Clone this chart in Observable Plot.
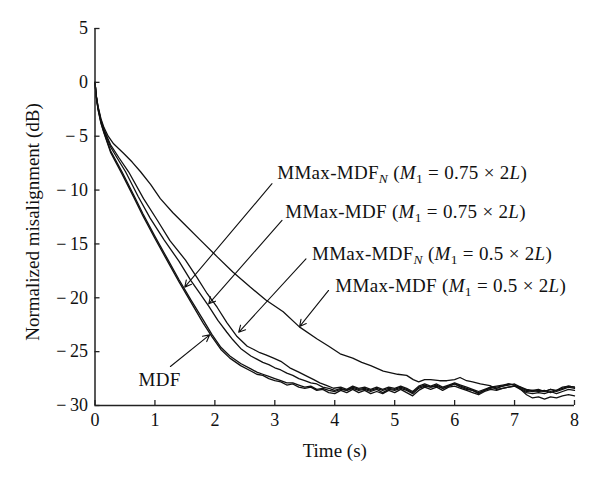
<!DOCTYPE html>
<html>
<head>
<meta charset="utf-8">
<script src="https://cdn.jsdelivr.net/npm/d3@7"></script>
<script src="https://cdn.jsdelivr.net/npm/@observablehq/plot@0.6"></script>
<style>
  html, body { margin: 0; padding: 0; background: #fff; }
  #chart { width: 600px; height: 481px; }
</style>
</head>
<body>
<div id="chart"></div>
<script>
// ---- Data ----
const xTicks = [0, 1, 2, 3, 4, 5, 6, 7, 8];
const yTicks = [5, 0, -5, -10, -15, -20, -25, -30];

// MDF
const mdf = [[0,0],[0.02,-1.3],[0.05,-2.5],[0.1,-3.8],[0.15,-4.7],[0.26,-6.5],[0.45,-8.5],[0.65,-10.7],[0.8,-12.4],[1.0,-14.5],[1.2,-16.5],[1.4,-18.5],[1.6,-20.4],[1.8,-22.3],[1.95,-23.6],[2.1,-24.8],[2.25,-25.6],[2.43,-26.3],[2.6,-26.8],[2.7,-27.1],[2.8,-27.2],[2.9,-27.5],[3.0,-27.7],[3.1,-27.8],[3.2,-28.1],[3.3,-28.0],[3.4,-28.3],[3.5,-28.4],[3.6,-28.3],[3.7,-28.6],[3.8,-28.5],[3.9,-28.8],[4.0,-28.9],[4.1,-28.6],[4.2,-28.8],[4.3,-28.5],[4.4,-28.8],[4.5,-28.6],[4.6,-28.9],[4.7,-28.7],[4.8,-28.9],[4.9,-28.6],[5.0,-28.8],[5.1,-28.5],[5.2,-28.8],[5.3,-29.1],[5.4,-28.6],[5.5,-28.3],[5.6,-28.5],[5.7,-28.3],[5.8,-28.6],[5.9,-28.3],[6.0,-28.2],[6.1,-28.4],[6.2,-28.6],[6.3,-28.8],[6.4,-29.0],[6.5,-28.7],[6.6,-28.5],[6.7,-28.6],[6.8,-28.4],[6.9,-28.3],[7.0,-28.2],[7.1,-28.5],[7.2,-28.8],[7.3,-28.9],[7.4,-28.8],[7.5,-28.9],[7.6,-28.7],[7.7,-28.9],[7.8,-28.7],[7.9,-28.5],[8.0,-28.6]];

// MMax-MDF_N (M1 = 0.75 x 2L)
const mmaxN075 = [[0,0],[0.02,-1.3],[0.05,-2.45],[0.1,-3.75],[0.15,-4.65],[0.26,-6.35],[0.45,-8.3],[0.65,-10.5],[0.8,-12.2],[1.0,-14.3],[1.2,-16.3],[1.4,-18.3],[1.6,-20.2],[1.8,-22.0],[1.95,-23.4],[2.1,-24.6],[2.25,-25.4],[2.43,-26.1],[2.6,-26.6],[2.7,-26.9],[2.8,-27.1],[2.9,-27.3],[3.0,-27.5],[3.1,-27.7],[3.2,-27.9],[3.3,-27.9],[3.4,-28.1],[3.5,-28.3],[3.6,-28.2],[3.7,-28.5],[3.8,-28.4],[3.9,-28.6],[4.0,-28.7],[4.1,-28.5],[4.2,-28.6],[4.3,-28.4],[4.4,-28.6],[4.5,-28.5],[4.6,-28.7],[4.7,-28.5],[4.8,-28.8],[4.9,-28.5],[5.0,-28.6],[5.1,-28.4],[5.2,-28.6],[5.3,-28.9],[5.4,-28.4],[5.5,-28.2],[5.6,-28.3],[5.7,-28.2],[5.8,-28.4],[5.9,-28.2],[6.0,-28.0],[6.1,-28.2],[6.2,-28.4],[6.3,-28.6],[6.4,-28.8],[6.5,-28.6],[6.6,-28.3],[6.7,-28.4],[6.8,-28.2],[6.9,-28.1],[7.0,-28.0],[7.1,-28.3],[7.2,-28.6],[7.3,-28.7],[7.4,-28.6],[7.5,-28.7],[7.6,-28.5],[7.7,-28.7],[7.8,-28.5],[7.9,-28.3],[8.0,-28.4]];

// MMax-MDF (M1 = 0.75 x 2L)
const mmax075 = [[0,0],[0.02,-1.25],[0.05,-2.35],[0.1,-3.6],[0.15,-4.5],[0.26,-6.0],[0.4,-7.3],[0.51,-8.3],[0.72,-10.6],[0.92,-12.6],[1.15,-14.6],[1.4,-16.6],[1.6,-18.4],[1.75,-19.6],[1.9,-20.8],[2.05,-22.1],[2.2,-23.2],[2.3,-23.9],[2.43,-24.7],[2.6,-25.4],[2.7,-25.7],[2.8,-26.0],[2.9,-26.2],[3.0,-26.5],[3.1,-26.7],[3.2,-27.0],[3.3,-27.2],[3.4,-27.5],[3.5,-27.7],[3.6,-27.9],[3.7,-28.0],[3.8,-28.3],[3.9,-28.4],[4.0,-28.6],[4.1,-28.4],[4.2,-28.6],[4.3,-28.3],[4.4,-28.5],[4.5,-28.4],[4.6,-28.6],[4.7,-28.4],[4.8,-28.6],[4.9,-28.4],[5.0,-28.5],[5.1,-28.3],[5.2,-28.5],[5.3,-28.8],[5.4,-28.3],[5.5,-28.1],[5.6,-28.3],[5.7,-28.1],[5.8,-28.4],[5.9,-28.2],[6.0,-28.0],[6.1,-28.3],[6.2,-28.5],[6.3,-28.6],[6.4,-28.9],[6.5,-28.6],[6.6,-28.4],[6.7,-28.3],[6.8,-28.2],[6.9,-28.0],[7.0,-28.1],[7.1,-28.4],[7.2,-28.7],[7.3,-28.6],[7.4,-28.7],[7.5,-28.6],[7.6,-28.8],[7.7,-28.6],[7.8,-28.4],[7.9,-28.2],[8.0,-28.3]];

// MMax-MDF_N (M1 = 0.5 x 2L)
const mmaxN05 = [[0,0],[0.02,-1.2],[0.05,-2.3],[0.1,-3.5],[0.15,-4.4],[0.26,-5.8],[0.4,-7.0],[0.56,-8.3],[0.81,-10.8],[1.04,-12.8],[1.25,-14.7],[1.51,-16.5],[1.7,-18.1],[1.87,-19.6],[2.04,-20.9],[2.2,-22.3],[2.37,-23.6],[2.54,-24.5],[2.65,-24.8],[2.75,-25.1],[2.85,-25.3],[2.98,-25.6],[3.1,-25.9],[3.25,-26.5],[3.4,-26.9],[3.54,-27.3],[3.65,-27.6],[3.75,-27.9],[3.85,-28.1],[3.98,-28.4],[4.1,-28.3],[4.2,-28.5],[4.3,-28.2],[4.4,-28.4],[4.5,-28.3],[4.6,-28.5],[4.7,-28.3],[4.8,-28.5],[4.9,-28.3],[5.0,-28.4],[5.1,-28.2],[5.2,-28.4],[5.3,-28.7],[5.4,-28.2],[5.5,-28.0],[5.6,-28.2],[5.7,-28.0],[5.8,-28.3],[5.9,-28.1],[6.0,-27.9],[6.1,-28.1],[6.2,-28.3],[6.3,-28.5],[6.4,-28.7],[6.5,-28.5],[6.6,-28.3],[6.7,-28.2],[6.8,-28.1],[6.9,-28.0],[7.0,-28.1],[7.1,-28.5],[7.2,-29.0],[7.3,-29.3],[7.4,-29.2],[7.5,-29.4],[7.6,-29.2],[7.7,-29.3],[7.8,-29.1],[7.9,-29.0],[8.0,-29.1]];

// MMax-MDF (M1 = 0.5 x 2L)
const mmax05 = [[0,0],[0.02,-1.2],[0.05,-2.2],[0.1,-3.4],[0.15,-4.2],[0.22,-5.0],[0.31,-5.7],[0.48,-6.6],[0.62,-7.4],[0.76,-8.3],[0.93,-9.5],[1.09,-10.8],[1.3,-12.1],[1.48,-13.1],[1.75,-14.6],[2.04,-16.2],[2.3,-17.6],[2.59,-19.0],[2.85,-20.2],[3.14,-21.3],[3.41,-22.7],[3.7,-23.8],[3.9,-24.5],[4.09,-25.2],[4.3,-25.6],[4.45,-26.0],[4.6,-26.3],[4.81,-26.8],[5.05,-27.1],[5.2,-27.2],[5.31,-27.6],[5.4,-27.8],[5.5,-27.6],[5.6,-27.6],[5.75,-27.7],[5.87,-27.7],[6.0,-27.6],[6.09,-27.4],[6.2,-27.7],[6.3,-27.8],[6.43,-28.0],[6.59,-28.15],[6.7,-28.5],[6.8,-28.4],[6.9,-28.3],[7.0,-28.2],[7.1,-28.3],[7.2,-28.5],[7.3,-28.6],[7.4,-28.5],[7.5,-28.7],[7.6,-28.5],[7.7,-28.6],[7.8,-28.3],[7.9,-28.2],[8.0,-28.3]];

// Annotation labels (rich text parts) and their anchor points (data units)
const labelX = [3.04, 3.175, 3.62, 4.01, 0.725];
const labelY = [-8.45, -12.07, -15.88, -18.86, -27.67];
const labelParts = [
  [{t:"MMax-MDF"},{t:"N",sub:true,it:true},{t:" ("},{t:"M",it:true},{t:"1",sub:true},{t:" = 0.75 × 2"},{t:"L",it:true},{t:")"}],
  [{t:"MMax-MDF ("},{t:"M",it:true},{t:"1",sub:true},{t:" = 0.75 × 2"},{t:"L",it:true},{t:")"}],
  [{t:"MMax-MDF"},{t:"N",sub:true,it:true},{t:" ("},{t:"M",it:true},{t:"1",sub:true},{t:" = 0.5 × 2"},{t:"L",it:true},{t:")"}],
  [{t:"MMax-MDF ("},{t:"M",it:true},{t:"1",sub:true},{t:" = 0.5 × 2"},{t:"L",it:true},{t:")"}],
  [{t:"MDF"}]
];
// Arrows: start (near label) -> tip (on curve), data units
const arrowX1 = [2.953, 3.12, 3.52, 3.897, 1.258];
const arrowY1 = [-9.41, -12.82, -16.38, -19.32, -26.38];
const arrowX2 = [1.497, 1.897, 2.397, 3.413, 1.913];
const arrowY2 = [-19.01, -20.56, -23.20, -22.67, -23.44];

// ---- Build tables ----
const seriesList = [mdf, mmaxN075, mmax075, mmaxN05, mmax05];
const lines = seriesList.flatMap((s, i) => s.map(([x, y]) => ({x, y, s: i})));
const labels = labelX.map((x, i) => ({x, y: labelY[i], text: labelParts[i].map(p => p.t).join(""), parts: labelParts[i]}));
const arrows = arrowX1.map((x1, i) => ({x1, y1: arrowY1[i], x2: arrowX2[i], y2: arrowY2[i]}));

const font = "'Liberation Serif', 'Times New Roman', serif";

const chart = Plot.plot({
  width: 600,
  height: 481,
  marginLeft: 94.5,
  marginRight: 26,
  marginTop: 28,
  marginBottom: 76,
  style: {fontFamily: font, fontSize: "18px", color: "#111", background: "#fff", overflow: "visible"},
  x: {domain: [0, 8]},
  y: {domain: [-30, 5]},
  marks: [
    Plot.line(lines, {x: "x", y: "y", z: "s", stroke: "#111", strokeWidth: 1.3, strokeLinejoin: "round"}),
    Plot.arrow(arrows, {x1: "x1", y1: "y1", x2: "x2", y2: "y2", stroke: "#111", strokeWidth: 1.1, headLength: 10, headAngle: 55}),
    Plot.text(labels, {x: "x", y: "y", text: "text", textAnchor: "start", lineAnchor: "middle", fontSize: 19, fill: "#111"}),
    Plot.ruleX([0], {stroke: "#222", strokeWidth: 1.5}),
    Plot.ruleY([-30], {stroke: "#222", strokeWidth: 1.5}),
    Plot.axisX({ticks: xTicks, tickSize: 0, tickPadding: 8, label: null, fontSize: 18, tickFormat: d => String(d)}),
    Plot.axisX({ticks: xTicks, tickSize: 5, dy: -5, text: null, label: null, stroke: "#222", strokeWidth: 1.3}),
    Plot.axisY({ticks: yTicks, tickSize: 0, tickPadding: 7, label: null, fontSize: 18, tickFormat: d => d < 0 ? "\u2212\u2009" + Math.abs(d) : String(d)}),
    Plot.axisY({ticks: yTicks, tickSize: 5, dx: 5, text: null, label: null, stroke: "#222", strokeWidth: 1.3}),
    Plot.text(["Time (s)"], {frameAnchor: "bottom", lineAnchor: "middle", dy: 45, fontSize: 19, fill: "#111"}),
    Plot.text(["Normalized misalignment (dB)"], {frameAnchor: "left", textAnchor: "middle", lineAnchor: "middle", dx: -62, dy: 5, rotate: -90, fontSize: 19, fill: "#111"})
  ]
});

document.getElementById("chart").appendChild(chart);

// Turn annotation labels into rich text (italic symbols, subscripts)
const svgns = "http://www.w3.org/2000/svg";
chart.querySelectorAll("text").forEach(el => {
  const lab = labels.find(l => l.text === el.textContent);
  if (!lab) return;
  while (el.firstChild) el.removeChild(el.firstChild);
  el.setAttribute("letter-spacing", "0.3");
  let shifted = false;
  for (const p of lab.parts) {
    const ts = document.createElementNS(svgns, "tspan");
    ts.textContent = p.t;
    if (p.it) ts.setAttribute("font-style", "italic");
    if (p.sub) {
      ts.setAttribute("font-size", "13.5");
      if (!shifted) { ts.setAttribute("dy", "4"); shifted = true; }
    } else if (shifted) {
      ts.setAttribute("dy", "-4"); shifted = false;
    }
    el.appendChild(ts);
  }
});
</script>
</body>
</html>
